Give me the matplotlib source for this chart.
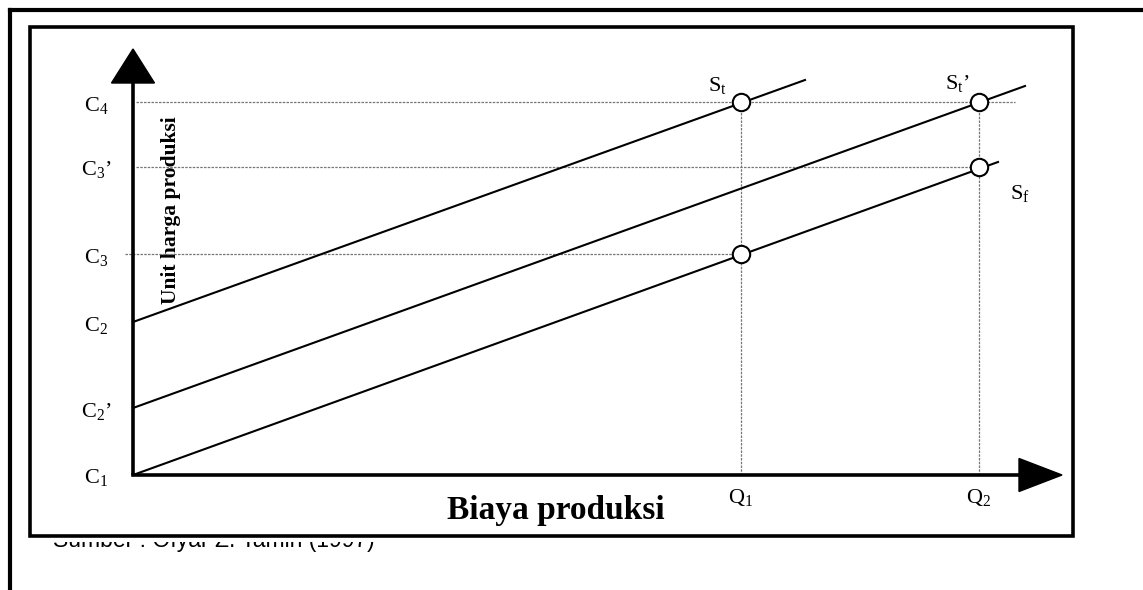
import matplotlib
matplotlib.use('Agg')
import matplotlib.pyplot as plt
from matplotlib.patches import Polygon, Rectangle

plt.rcParams['font.family'] = 'Liberation Serif'
plt.rcParams['mathtext.fontset'] = 'custom'
plt.rcParams['mathtext.rm'] = 'Liberation Serif'
plt.rcParams['mathtext.it'] = 'Liberation Serif:italic'
plt.rcParams['mathtext.bf'] = 'Liberation Serif:bold'

# price levels on the vertical axis
c_labels = [r'$\mathrm{C}_{1}$', r'$\mathrm{C}_{2}$’', r'$\mathrm{C}_{2}$',
            r'$\mathrm{C}_{3}$', r'$\mathrm{C}_{3}$’', r'$\mathrm{C}_{4}$']
c_values = [0.0, 0.67, 1.53, 2.21, 3.08, 3.73]

# quantities on the horizontal axis
q_labels = [r'$\mathrm{Q}_{1}$', r'$\mathrm{Q}_{2}$']
q_values = [6.08, 8.46]

# supply lines (start and end points)
st_x = [0.0, 6.72]
st_y = [1.53, 3.95]
st2_x = [0.0, 8.92]
st2_y = [0.67, 3.89]
sf_x = [0.0, 8.65]
sf_y = [0.0, 3.13]

# equilibrium points
pt_x = [6.08, 8.46, 8.46, 6.08]
pt_y = [3.73, 3.73, 3.08, 2.21]

line_labels = [r'$\mathrm{S}_{\mathrm{t}}$', r'$\mathrm{S}_{\mathrm{t}}$’',
               r'$\mathrm{S}_{\mathrm{f}}$']

fig = plt.figure(figsize=(11.43, 5.9), dpi=100)
ax = fig.add_axes([0, 0, 1, 1])
ax.set_xlim(-1.33, 10.10)
ax.set_ylim(-1.15, 4.75)
ax.axis('off')

# outer frame (runs off the right and bottom edges)
ax.plot([-1.235, 10.3], [4.655, 4.655], color='black', lw=3.0, clip_on=False,
        solid_capstyle='projecting')
ax.plot([-1.235, -1.235], [4.655, -1.3], color='black', lw=3.0, clip_on=False,
        solid_capstyle='projecting')

# source note, its upper part hidden by the inner box
ax.text(-0.80, -0.715, 'Sumber : Ofyar Z. Tamin (1997)', family='Liberation Sans',
        fontsize=16.5, ha='left', va='baseline', zorder=1)
ax.add_patch(Rectangle((-1.10, -0.665), 5.5, 0.3, facecolor='white',
                       edgecolor='none', zorder=2))
ax.add_patch(Rectangle((-1.03, -0.61), 10.43, 5.09, facecolor='none',
                       edgecolor='black', lw=2.6, zorder=3))

# guide lines
guide = dict(color='#777777', lw=0.9, ls=(0, (2, 1)), zorder=4)
ax.plot([0.03, 8.82], [c_values[5], c_values[5]], **guide)
ax.plot([0.03, q_values[1]], [c_values[4], c_values[4]], **guide)
ax.plot([-0.08, q_values[0]], [c_values[3], c_values[3]], **guide)
for q in q_values:
    ax.plot([q, q], [0, c_values[5]], **guide)

# axes with arrow heads
ax.plot([0, 0], [0, 3.95], color='black', lw=2.6, zorder=5, solid_capstyle='butt')
ax.plot([0, 8.88], [0, 0], color='black', lw=2.6, zorder=5, solid_capstyle='projecting')
ax.add_patch(Polygon([[-0.215, 3.92], [0.215, 3.92], [0, 4.26]],
                     closed=True, color='black', zorder=5))
ax.add_patch(Polygon([[8.86, 0.165], [8.86, -0.165], [9.29, 0]],
                     closed=True, color='black', zorder=5))

# supply lines
for xs, ys in [(st_x, st_y), (st2_x, st2_y), (sf_x, sf_y)]:
    ax.plot(xs, ys, color='black', lw=1.5, zorder=6)
ax.plot(pt_x, pt_y, ls='none', marker='o', ms=12.5, mfc='white', mec='black',
        mew=1.5, zorder=7)

# labels
for lab, v in zip(c_labels, c_values):
    x0 = -0.52 if '’' in lab else -0.49
    ax.text(x0, v - 0.03, lab, fontsize=16, ha='left', va='center')
for lab, q in zip(q_labels, q_values):
    ax.text(q, -0.22, lab, fontsize=16, ha='center', va='center')
for lab, (lx, ly) in zip(line_labels, [(5.84, 3.90), (8.24, 3.92), (8.87, 2.82)]):
    ax.text(lx, ly, lab, fontsize=16, ha='center', va='center')

ax.text(0.38, 2.65, 'Unit harga produksi', fontsize=15.5, fontweight='bold',
        rotation=90, ha='center', va='center')
ax.text(4.23, -0.35, 'Biaya produksi', fontsize=24, fontweight='bold',
        ha='center', va='center')

fig.savefig('out.png', dpi=100)
